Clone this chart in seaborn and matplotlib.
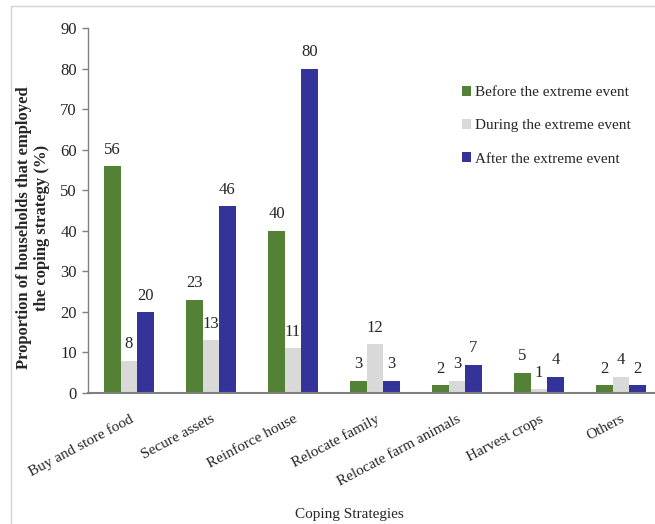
import matplotlib
matplotlib.use("Agg")
import matplotlib.pyplot as plt
import seaborn as sns
import pandas as pd
from matplotlib.lines import Line2D
from matplotlib.patches import Patch

categories = ["Buy and store food", "Secure assets", "Reinforce house",
              "Relocate family", "Relocate farm animals", "Harvest crops", "Others"]
series_names = ["Before the extreme event", "During the extreme event", "After the extreme event"]
before = [56, 23, 40, 3, 2, 5, 2]
during = [8, 13, 11, 12, 3, 1, 4]
after = [20, 46, 80, 3, 7, 4, 2]
y_ticks = [0, 10, 20, 30, 40, 50, 60, 70, 80, 90]

colors = ["#538135", "#d9d9d9", "#333399"]

rows = []
for name, vals in zip(series_names, [before, during, after]):
    for cat, v in zip(categories, vals):
        rows.append({"Strategy": cat, "Period": name, "Value": v})
df = pd.DataFrame(rows)

sns.set_style("white")
plt.rcParams["font.family"] = ["Liberation Serif", "DejaVu Serif"]

fig = plt.figure(figsize=(6.55, 5.24), dpi=100)
ax = fig.add_axes([88 / 655, 1 - 393 / 524, (662 - 88) / 655, (393 - 28) / 524])

sns.barplot(data=df, x="Strategy", y="Value", hue="Period", hue_order=series_names,
            order=categories, palette=colors, width=0.6, gap=0, saturation=1,
            edgecolor="none", linewidth=0, legend=False, ax=ax)

for cont in ax.containers:
    ax.bar_label(cont, labels=[f"{v:g}" for v in cont.datavalues], padding=6, fontsize=12)

ax.set_xlim(-0.5, 6.5)
ax.set_ylim(0, 90)
ax.set_yticks(y_ticks)
ax.tick_params(axis="y", direction="out", length=4, width=1, color="#808080",
               labelsize=12, pad=4, left=True)
ax.tick_params(axis="x", length=0, labelsize=11, pad=14)
ax.set_xticks(range(len(categories)))
ax.set_xticklabels(categories, rotation=28, ha="right", rotation_mode="anchor")

for side in ["top", "right"]:
    ax.spines[side].set_visible(False)
ax.spines["left"].set_color("#808080")
ax.spines["left"].set_linewidth(1)
ax.spines["bottom"].set_color("#808080")
ax.spines["bottom"].set_linewidth(1.5)

ax.set_xlabel("Coping Strategies", fontsize=11)
ax.xaxis.set_label_coords(0.456, -0.315)
ax.set_ylabel("Proportion of households that employed\nthe coping strategy (%)",
              fontsize=12, fontweight="bold", linespacing=1.2)
ax.yaxis.set_label_coords(-0.066, 0.452)

handles = [Patch(facecolor=c, edgecolor="none") for c in colors]
fig.legend(handles, series_names, loc="upper left", bbox_to_anchor=(456 / 655, 1 - 80 / 524),
           frameon=False, fontsize=11, handlelength=0.6, handleheight=0.6,
           handletextpad=0.25, labelspacing=1.3, borderaxespad=0)

# light outer frame along the top and left edges
fig.add_artist(Line2D([11 / 655, 1], [1 - 6 / 524, 1 - 6 / 524], transform=fig.transFigure,
                      color="#d4d4d4", linewidth=1))
fig.add_artist(Line2D([11 / 655, 11 / 655], [0, 1 - 6 / 524], transform=fig.transFigure,
                      color="#d4d4d4", linewidth=1))

fig.savefig("out.png", dpi=100)
